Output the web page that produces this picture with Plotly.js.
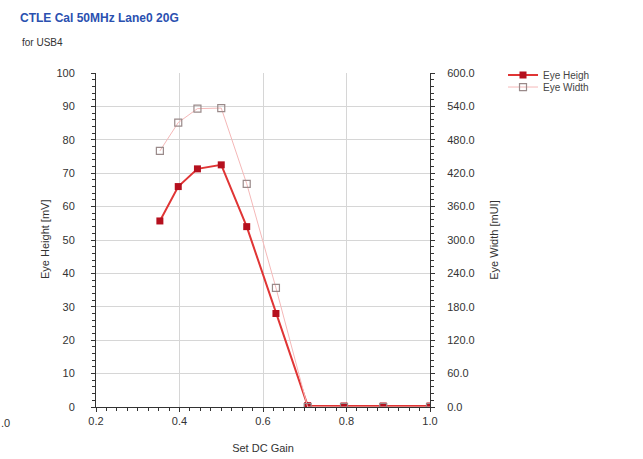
<!DOCTYPE html>
<html>
<head>
<meta charset="utf-8">
<script src="https://cdn.plot.ly/plotly-3.0.1.min.js"></script>
<style>html,body{margin:0;padding:0;background:#fff;}#chart{width:643px;height:459px;}</style>
</head>
<body>
<div id="chart"></div>
<script>
var dcGain = [0.353, 0.397, 0.443, 0.500, 0.561, 0.631, 0.707, 0.794, 0.888, 1.0];
var eyeHeight = [55.7, 66.0, 71.3, 72.5, 54.0, 28.0, 0.4, 0.3, 0.3, 0.3];
var eyeWidth = [460, 511, 536, 537, 401, 214, 0, 0, 0, 0];
var seriesNames = ["Eye Heigh", "Eye Width"];
var xTicks = [0.2, 0.4, 0.6, 0.8, 1.0];
var xTickText = ["0.2", "0.4", "0.6", "0.8", "1.0"];
var y1Ticks = [0, 10, 20, 30, 40, 50, 60, 70, 80, 90, 100];
var y2Ticks = [0, 60, 120, 180, 240, 300, 360, 420, 480, 540, 600];
var y2TickText = y2Ticks.map(function(v){return v.toFixed(1);});

var font = "Liberation Sans, Arial, sans-serif";
var traces = [
  {x: dcGain, y: eyeWidth, name: seriesNames[1], yaxis: 'y2', type: 'scatter', mode: 'lines+markers',
   legend: 'legend2',
   line: {color: '#f5b8b8', width: 1},
   marker: {symbol: 'square-open', size: 7, color: '#9a8a8a', line: {width: 1.2, color: '#9a8a8a'}}},
  {x: dcGain, y: eyeHeight, name: seriesNames[0], type: 'scatter', mode: 'lines+markers',
   legend: 'legend',
   line: {color: '#e03535', width: 2},
   marker: {symbol: 'square', size: 7, color: '#b5101e', line: {width: 0}}}
];
var legendCommon = {xanchor: 'left', yanchor: 'middle', font: {size: 10, color: '#444'},
                    bgcolor: 'rgba(0,0,0,0)', itemwidth: 30};
var layout = {
  width: 643, height: 459,
  margin: {l: 96, r: 213, t: 73, b: 52},
  paper_bgcolor: '#fff', plot_bgcolor: '#fff',
  font: {family: font, size: 11, color: '#333'},
  showlegend: true,
  legend: Object.assign({x: 1.2186, y: 0.994}, legendCommon),
  legend2: Object.assign({x: 1.2186, y: 0.958}, legendCommon),
  xaxis: {range: [0.2, 1.0], tickvals: xTicks, ticktext: xTickText, showgrid: true, gridcolor: '#d6d6d6',
          showline: true, linecolor: '#333', linewidth: 1, ticks: 'outside', ticklen: 4, tickcolor: '#333',
          minor: {dtick: 0.025, ticks: 'outside', ticklen: 3, tickcolor: '#333', showgrid: false},
          zeroline: false, fixedrange: true,
          title: {text: 'Set DC Gain', font: {size: 11, color: '#333'}, standoff: 18}},
  yaxis: {range: [0, 100], tickvals: y1Ticks, showgrid: true, gridcolor: '#d6d6d6',
          showline: true, linecolor: '#333', linewidth: 1, ticks: 'outside', ticklen: 4, tickcolor: '#333',
          minor: {dtick: 2, ticks: 'outside', ticklen: 3, tickcolor: '#333', showgrid: false},
          ticklabelstandoff: 14, zeroline: false},
  yaxis2: {range: [0, 600], tickvals: y2Ticks, ticktext: y2TickText, overlaying: 'y', side: 'right',
          showgrid: false, showline: true, linecolor: '#333', linewidth: 1, ticks: 'outside', ticklen: 4, tickcolor: '#333',
          minor: {dtick: 12, ticks: 'outside', ticklen: 3, tickcolor: '#333', showgrid: false},
          ticklabelstandoff: 10, zeroline: false,
          title: {text: 'Eye Width [mUI]', font: {size: 11, color: '#333'}, standoff: 16}},
  title: {text: '<b>CTLE Cal 50MHz Lane0 20G</b>', x: 20/643, xref: 'container', xanchor: 'left',
          y: 1 - 18/459, yref: 'container', yanchor: 'middle',
          font: {family: font, size: 12, color: '#2a50b0'}},
  annotations: [
    {text: 'for USB4', xref: 'paper', yref: 'paper', x: -0.228, y: 1.09, xanchor: 'left', yanchor: 'middle',
     showarrow: false, font: {size: 10, color: '#333'}},
    {text: 'Eye Height [mV]', xref: 'paper', yref: 'paper', x: -(96 - 45) / 334, y: 0.5, xanchor: 'center', yanchor: 'middle',
     textangle: -90, showarrow: false, font: {size: 11, color: '#333'}},
    {text: '.0', xref: 'paper', yref: 'paper', x: -0.29, y: -0.048, xanchor: 'left', yanchor: 'middle',
     showarrow: false, font: {size: 11, color: '#333'}}
  ]
};
Plotly.newPlot('chart', traces, layout, {displayModeBar: false, staticPlot: true});
</script>
</body>
</html>
